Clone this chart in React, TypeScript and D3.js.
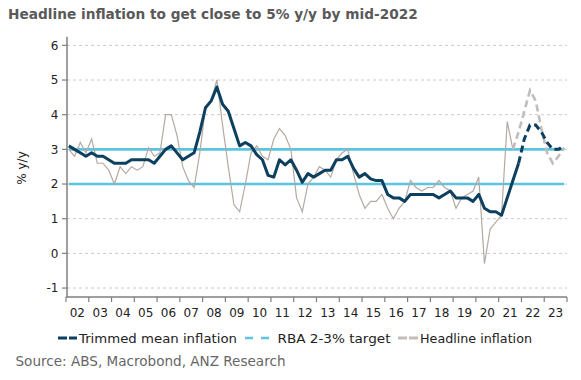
import React from "react";
import * as d3 from "d3";

const TITLE = "Headline inflation to get close to 5% y/y by mid-2022";
const SOURCE = "Source: ABS, Macrobond, ANZ Research";
const Y_LABEL = "% y/y";
const START_YEAR = 2002; // first quarter = 2002 Q1
const YEAR_LABELS = ["02","03","04","05","06","07","08","09","10","11","12","13","14","15","16","17","18","19","20","21","22","23"];
const Y_TICKS = [-1, 0, 1, 2, 3, 4, 5, 6];

// Trimmed mean inflation (actual), quarterly from 2002Q1 to 2021Q4
const trimmedActual = [
  3.1, 3.0, 2.9, 2.8, 2.9, 2.8, 2.8, 2.7, 2.6, 2.6, 2.6, 2.7,
  2.7, 2.7, 2.7, 2.6, 2.8, 3.0, 3.1, 2.9, 2.7, 2.8, 2.9, 3.5,
  4.2, 4.4, 4.8, 4.3, 4.1, 3.6, 3.1, 3.2, 3.1, 2.85, 2.7, 2.25,
  2.2, 2.7, 2.55, 2.7, 2.4, 2.05, 2.3, 2.2, 2.3, 2.4, 2.4, 2.7,
  2.7, 2.8, 2.45, 2.2, 2.3, 2.15, 2.1, 2.1, 1.7, 1.6, 1.6, 1.5,
  1.7, 1.7, 1.7, 1.7, 1.7, 1.6, 1.7, 1.8, 1.6, 1.6, 1.6, 1.5,
  1.7, 1.3, 1.2, 1.2, 1.1, 1.6, 2.1, 2.6,
];
// Trimmed mean forecast, 2021Q4 to 2023Q4
const trimmedForecast = [2.6, 3.3, 3.7, 3.7, 3.5, 3.2, 3.0, 3.0, 3.1];
const TRIMMED_FC_START = 79;

// Headline inflation (actual), 2002Q1 to 2021Q3
const headlineActual = [
  3.0, 2.8, 3.2, 2.9, 3.3, 2.6, 2.6, 2.4, 2.0, 2.5, 2.3, 2.5,
  2.4, 2.5, 3.05, 2.8, 2.9, 4.0, 4.0, 3.4, 2.5, 2.1, 1.9, 2.9,
  4.2, 4.4, 5.0, 3.7, 2.5, 1.4, 1.2, 2.0, 2.9, 3.1, 2.8, 2.7,
  3.3, 3.6, 3.4, 3.0, 1.6, 1.2, 2.0, 2.2, 2.5, 2.4, 2.2, 2.7,
  2.9, 3.0, 2.3, 1.7, 1.3, 1.5, 1.5, 1.7, 1.3, 1.0, 1.3, 1.5,
  2.1, 1.9, 1.8, 1.9, 1.9, 2.1, 1.9, 1.8, 1.3, 1.6, 1.7, 1.8,
  2.2, -0.3, 0.7, 0.9, 1.1, 3.8, 3.0,
];
// Headline forecast, 2021Q3 to 2023Q4
const headlineForecast = [3.0, 3.5, 4.1, 4.7, 4.4, 3.6, 2.9, 2.6, 2.8, 3.05];
const HEADLINE_FC_START = 78;

const RBA_TARGET = [2, 3];
const N_QUARTERS = 88;

const W = 581, H = 380;
const x = d3.scaleLinear().domain([2002, 2024]).range([66, 567]);
const y = d3.scaleLinear().domain([-1.25, 6.25]).range([296.7, 36.7]);
const qx = (i: number) => x(START_YEAR + (i + 0.5) / 4);

const NAVY = "#0d3f5f";
const BLUE = "#5cc3e1";
const GRAY = "#b3aaa3";
const GRAY_FC = "#c0bdbb";
const FONT = "DejaVu Sans, Verdana, sans-serif";

export default function App() {
  const line = d3.line<number>().x((_, i) => qx(i)).y((v) => y(v));
  const lineOff = (off: number) => d3.line<number>().x((_, i) => qx(i + off)).y((v) => y(v));
  const years = d3.range(2002, 2025);
  return (
    <svg width={W} height={H} style={{ position: "absolute", left: 0, top: 0, background: "#fff" }} fontFamily={FONT}>
      <rect width={W} height={H} fill="#fff" />
      <text x={8} y={19} fontSize={13.7} fontWeight="bold" fill="#595959">{TITLE}</text>
      {/* gridlines */}
      {Y_TICKS.map((t) => (
        <line key={"g" + t} x1={67} x2={567} y1={y(t)} y2={y(t)} stroke="#c9c9c9" strokeWidth={1} strokeDasharray="3,3" />
      ))}
      {/* RBA target band */}
      {RBA_TARGET.map((t) => (
        <line key={"r" + t} x1={qx(0)} x2={qx(N_QUARTERS - 1)} y1={y(t)} y2={y(t)} stroke={BLUE} strokeWidth={2.6} />
      ))}
      {/* headline */}
      <path d={line(headlineActual) || ""} fill="none" stroke={GRAY} strokeWidth={1.2} />
      <path d={lineOff(HEADLINE_FC_START)(headlineForecast) || ""} fill="none" stroke={GRAY_FC} strokeWidth={2.6} strokeDasharray="7,4" />
      {/* trimmed mean */}
      <path d={line(trimmedActual) || ""} fill="none" stroke={NAVY} strokeWidth={3} strokeLinejoin="round" />
      <path d={lineOff(TRIMMED_FC_START)(trimmedForecast) || ""} fill="none" stroke={NAVY} strokeWidth={3} strokeDasharray="7,4" />
      {/* axes */}
      <line x1={67} x2={67} y1={36.7} y2={297} stroke="#7f7f7f" strokeWidth={1.5} />
      {Y_TICKS.map((t) => (
        <g key={"yt" + t}>
          <line x1={62} x2={67} y1={y(t)} y2={y(t)} stroke="#7f7f7f" strokeWidth={1.2} />
          <text x={58.5} y={y(t) + 4.3} textAnchor="end" fontSize={12} fill="#222">{t}</text>
        </g>
      ))}
      <line x1={66} x2={567} y1={297} y2={297} stroke="#7f7f7f" strokeWidth={1.5} />
      {years.map((yr) => (
        <line key={"xt" + yr} x1={x(yr)} x2={x(yr)} y1={297} y2={302} stroke="#7f7f7f" strokeWidth={1.2} />
      ))}
      {YEAR_LABELS.map((lab, i) => (
        <text key={"xl" + lab} x={x(2002 + i + 0.5)} y={317} textAnchor="middle" fontSize={12} fill="#222">{lab}</text>
      ))}
      <text transform={`translate(26,168) rotate(-90)`} textAnchor="middle" fontSize={12} fill="#222">{Y_LABEL}</text>
      {/* legend */}
      <g>
        <line x1={58} x2={77} y1={338} y2={338} stroke={NAVY} strokeWidth={3} strokeDasharray="9,2" />
        <text x={79} y={342.5} fontSize={13} fill="#222" textLength={158} lengthAdjust="spacingAndGlyphs">Trimmed mean inflation</text>
        <line x1={245} x2={274} y1={338} y2={338} stroke={BLUE} strokeWidth={2.5} strokeDasharray="8,8" />
        <text x={277.5} y={342.5} fontSize={13} fill="#222" textLength={113} lengthAdjust="spacingAndGlyphs">RBA 2-3% target</text>
        <line x1={398} x2={418} y1={338} y2={338} stroke={GRAY_FC} strokeWidth={3} strokeDasharray="9,2" />
        <text x={420} y={342.5} fontSize={13} fill="#222" textLength={112} lengthAdjust="spacingAndGlyphs">Headline inflation</text>
      </g>
      <text x={15.5} y={366} fontSize={13.3} fill="#666" textLength={270} lengthAdjust="spacingAndGlyphs">{SOURCE}</text>
    </svg>
  );
}
